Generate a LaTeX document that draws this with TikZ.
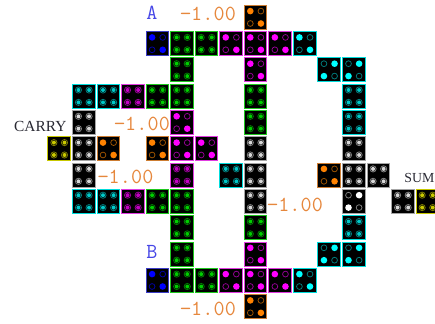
\documentclass[tikz,border=0pt]{standalone}
\usepackage{fontspec}
\setmainfont{Liberation Serif}
\setmonofont{Latin Modern Mono}
\definecolor{cyanB}{RGB}{0,220,220}\definecolor{cyanD}{RGB}{0,255,255}\definecolor{cyanR}{RGB}{0,125,125}\definecolor{cyanE}{RGB}{0,200,200}
\definecolor{greenB}{RGB}{30,200,30}\definecolor{greenD}{RGB}{0,230,0}\definecolor{greenR}{RGB}{0,125,0}\definecolor{greenE}{RGB}{0,205,0}
\definecolor{magB}{RGB}{225,60,225}\definecolor{magD}{RGB}{255,0,255}\definecolor{magR}{RGB}{150,0,150}\definecolor{magE}{RGB}{195,0,195}
\definecolor{oraB}{RGB}{205,125,50}\definecolor{oraD}{RGB}{255,130,0}\definecolor{oraR}{RGB}{160,85,0}\definecolor{oraE}{RGB}{255,130,0}
\definecolor{bluB}{RGB}{60,60,200}\definecolor{bluD}{RGB}{0,0,255}\definecolor{bluR}{RGB}{0,0,170}\definecolor{bluE}{RGB}{0,0,255}
\definecolor{yelB}{RGB}{200,200,0}\definecolor{yelD}{RGB}{230,230,0}\definecolor{yelR}{RGB}{125,125,0}\definecolor{yelE}{RGB}{200,200,0}
\definecolor{gryB}{RGB}{165,165,165}\definecolor{gryD}{RGB}{255,255,255}\definecolor{gryR}{RGB}{130,130,130}\definecolor{gryE}{RGB}{215,215,215}
\definecolor{labO}{RGB}{230,135,60}\definecolor{labB}{RGB}{70,70,230}\definecolor{labK}{RGB}{40,40,50}
\newcommand{\filleddot}[3]{\fill[#3D] ($(#1)+(#2)$) circle (3.3);}
\newcommand{\hollowdot}[3]{\draw[#3R,line width=.75pt] ($(#1)+(#2)$) circle (2.9);}
\newcommand{\ringdot}[3]{\draw[#3R,line width=.8pt] ($(#1)+(#2)$) circle (3.1);\fill[#3E] ($(#1)+(#2)$) circle (2.0);}
\newcommand{\monolabel}[3]{\node[numlabel] (#1) at (#2,#3) {\makebox[11.2pt]{−}\makebox[11.2pt]{1}\makebox[11.2pt]{.}\makebox[11.2pt]{0}\makebox[11.2pt]{0}};}
\usetikzlibrary{calc}
\tikzset{
  x=1pt,y=-1pt,
  tile/.style={draw=#1,fill=black,line width=.95pt,minimum width=22.6pt,minimum height=24pt,inner sep=0pt,outer sep=0pt},
  numlabel/.style={text=labO,font=\ttfamily\fontsize{21.5}{21.5}\selectfont,inner sep=0pt},
  pinlabel/.style={text=labB,font=\ttfamily\fontsize{21.5}{21.5}\selectfont,inner sep=0pt},
  netlabel/.style={text=labK,font=\fontsize{15.4}{15.4}\selectfont,inner sep=0pt},
  sumlabel/.style={text=labK,font=\fontsize{13.8}{13.8}\selectfont,inner sep=0pt}
}
\begin{document}
\begin{tikzpicture}
\useasboundingbox (0,0) rectangle (435,323);
\foreach \c/\r/\k/\t in {
 8/0/ora/a,
 4/1/blu/a,5/1/green/b,6/1/green/b,7/1/mag/a,8/1/mag/a,9/1/mag/a,10/1/cyan/a,
 5/2/green/b,8/2/mag/a,11/2/cyan/f,12/2/cyan/f,
 1/3/cyan/b,2/3/cyan/b,3/3/mag/b,4/3/green/b,5/3/green/b,8/3/green/b,12/3/cyan/b,
 1/4/gry/b,5/4/mag/a,8/4/green/b,12/4/cyan/b,
 0/5/yel/b,1/5/gry/b,2/5/ora/a,4/5/ora/a,5/5/mag/a,6/5/mag/a,8/5/gry/b,12/5/gry/b,
 1/6/gry/b,5/6/mag/b,7/6/cyan/b,8/6/gry/b,11/6/ora/a,12/6/gry/b,13/6/gry/b,
 1/7/cyan/b,2/7/cyan/b,3/7/mag/b,4/7/green/b,5/7/green/b,8/7/gry/b,12/7/gry/f,14/7/gry/b,15/7/yel/b,
 5/8/green/b,8/8/green/b,12/8/cyan/b,
 5/9/green/b,8/9/mag/a,11/9/cyan/f,12/9/cyan/f,
 4/10/blu/a,5/10/green/b,6/10/green/b,7/10/mag/a,8/10/mag/a,9/10/mag/a,10/10/cyan/a,
 8/11/ora/a}{
  \pgfmathsetmacro{\px}{59.2+24.55*\c}
  \pgfmathsetmacro{\py}{17.3+26.3*\r}
  \begin{scope}
  \clip (0,0) rectangle (435,323);
  \node[tile=\k B] (t\c-\r) at (\px,\py) {};
  \if\t a
    \filleddot{t\c-\r}{-5.3,-6.2}{\k}\hollowdot{t\c-\r}{5.3,-6.2}{\k}
    \hollowdot{t\c-\r}{-5.3,6.2}{\k}\filleddot{t\c-\r}{5.3,6.2}{\k}
  \fi
  \if\t f
    \hollowdot{t\c-\r}{-5.3,-6.2}{\k}\filleddot{t\c-\r}{5.3,-6.2}{\k}
    \filleddot{t\c-\r}{-5.3,6.2}{\k}\hollowdot{t\c-\r}{5.3,6.2}{\k}
  \fi
  \if\t b
    \ringdot{t\c-\r}{-5.3,-6.2}{\k}\ringdot{t\c-\r}{5.3,-6.2}{\k}
    \ringdot{t\c-\r}{-5.3,6.2}{\k}\ringdot{t\c-\r}{5.3,6.2}{\k}
  \fi
  \end{scope}
}
\node[pinlabel] (pinA) at (152,13) {A};
\node[pinlabel] (pinB) at (152,252) {B};
\node[netlabel,anchor=west] (carry) at (14,126.5) {CARRY};
\node[sumlabel,anchor=east] (sum) at (434.5,178) {SUM};
\monolabel{v1}{208}{14}
\monolabel{v2}{142}{124}
\monolabel{v3}{125.5}{177}
\monolabel{v4}{295}{205}
\monolabel{v5}{208}{309}
\end{tikzpicture}
\end{document}
